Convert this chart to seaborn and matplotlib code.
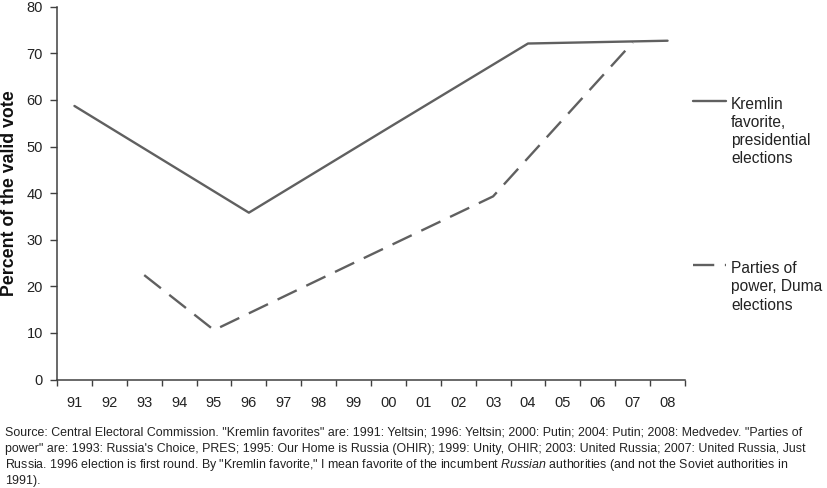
import matplotlib
matplotlib.use('Agg')
import matplotlib.pyplot as plt
from matplotlib.lines import Line2D
import seaborn as sns
import pandas as pd

# election years shown on the category axis
years = ['91', '92', '93', '94', '95', '96', '97', '98', '99',
         '00', '01', '02', '03', '04', '05', '06', '07', '08']

# Kremlin favorite, presidential elections
kremlin_years = ['91', '96', '00', '04', '08']
kremlin_vals = [58.7, 35.8, 54.0, 72.1, 72.7]

# Parties of power, Duma elections
duma_years = ['93', '95', '99', '03', '07']
duma_vals = [22.4, 10.6, 25.0, 39.3, 72.3]

kremlin_label = ['Kremlin', 'favorite,', 'presidential', 'elections']
duma_label = ['Parties of', 'power, Duma', 'elections']

source_lines = [
    'Source: Central Electoral Commission. "Kremlin favorites" are: 1991: Yeltsin; 1996: Yeltsin; '
    '2000: Putin; 2004: Putin; 2008: Medvedev. "Parties of',
    'power" are: 1993: Russia\'s Choice, PRES; 1995: Our Home is Russia (OHIR); 1999: Unity, OHIR; '
    '2003: United Russia; 2007: United Russia, Just',
    'Russia. 1996 election is first round. By "Kremlin favorite," I mean favorite of the incumbent '
    '$\\it{Russian}$ authorities (and not the Soviet authorities in',
    '1991).',
]

sns.set_style('ticks')
plt.rcParams['font.family'] = ['Liberation Sans', 'DejaVu Sans']
plt.rcParams['mathtext.fontset'] = 'custom'
plt.rcParams['mathtext.rm'] = 'Liberation Sans'
plt.rcParams['mathtext.it'] = 'Liberation Sans:italic'

grey = '#606060'
axis_col = '#404040'
text_col = '#222222'
dash = (0, (9, 4.5))

fig = plt.figure(figsize=(8.28, 4.88), dpi=100)
ax = fig.add_axes([57 / 828, 1 - 379.5 / 488, (685 - 57) / 828, (379.5 - 6.7) / 488])

pos = {y: i + 0.5 for i, y in enumerate(years)}
df_k = pd.DataFrame({'x': [pos[y] for y in kremlin_years], 'v': kremlin_vals})
df_d = pd.DataFrame({'x': [pos[y] for y in duma_years], 'v': duma_vals})

sns.lineplot(data=df_k, x='x', y='v', ax=ax, color=grey, lw=1.7, sort=False)
sns.lineplot(data=df_d, x='x', y='v', ax=ax, color=grey, lw=1.7, sort=False)
ax.lines[-1].set_linestyle(dash)

ax.set_xlim(0, len(years))
ax.set_ylim(0, 80)
ax.set_yticks(range(0, 81, 10))
ax.set_xticks(range(0, len(years) + 1))
ax.set_xticklabels([])
ax.set_xticks([i + 0.5 for i in range(len(years))], minor=True)
ax.set_xticklabels(years, minor=True)

ax.tick_params(axis='x', which='major', length=4, width=1, color=axis_col, direction='out')
ax.tick_params(axis='x', which='minor', length=0, pad=12, labelsize=10.5, labelcolor=text_col)
ax.tick_params(axis='y', length=5, width=1, color=axis_col, pad=5, labelsize=10.5, labelcolor=text_col)

for s in ['top', 'right']:
    ax.spines[s].set_visible(False)
for s in ['left', 'bottom']:
    ax.spines[s].set_color(axis_col)
    ax.spines[s].set_linewidth(1.1)

ax.set_xlabel('')
ax.set_ylabel('Percent of the valid vote', fontsize=12.8, fontweight='bold', labelpad=6, color='#111111')

# legend keys drawn beside the plot area
fig.add_artist(Line2D([693 / 828, 726 / 828], [1 - 101 / 488] * 2, color=grey, lw=1.7))
fig.add_artist(Line2D([693 / 828, 726 / 828], [1 - 265 / 488] * 2, color=grey, lw=1.7, linestyle=dash))
for i, line in enumerate(kremlin_label):
    fig.text(731 / 828, 1 - (109 + 18 * i) / 488, line, fontsize=11.2, va='baseline', ha='left',
             color=text_col)
for i, line in enumerate(duma_label):
    fig.text(731 / 828, 1 - (273 + 18.5 * i) / 488, line, fontsize=11.2, va='baseline', ha='left',
             color=text_col)

for i, line in enumerate(source_lines):
    fig.text(5 / 828, 1 - (435.7 + 16.2 * i) / 488, line, fontsize=8.95, va='baseline', ha='left',
             color=text_col)

fig.savefig('out.png', dpi=100)
